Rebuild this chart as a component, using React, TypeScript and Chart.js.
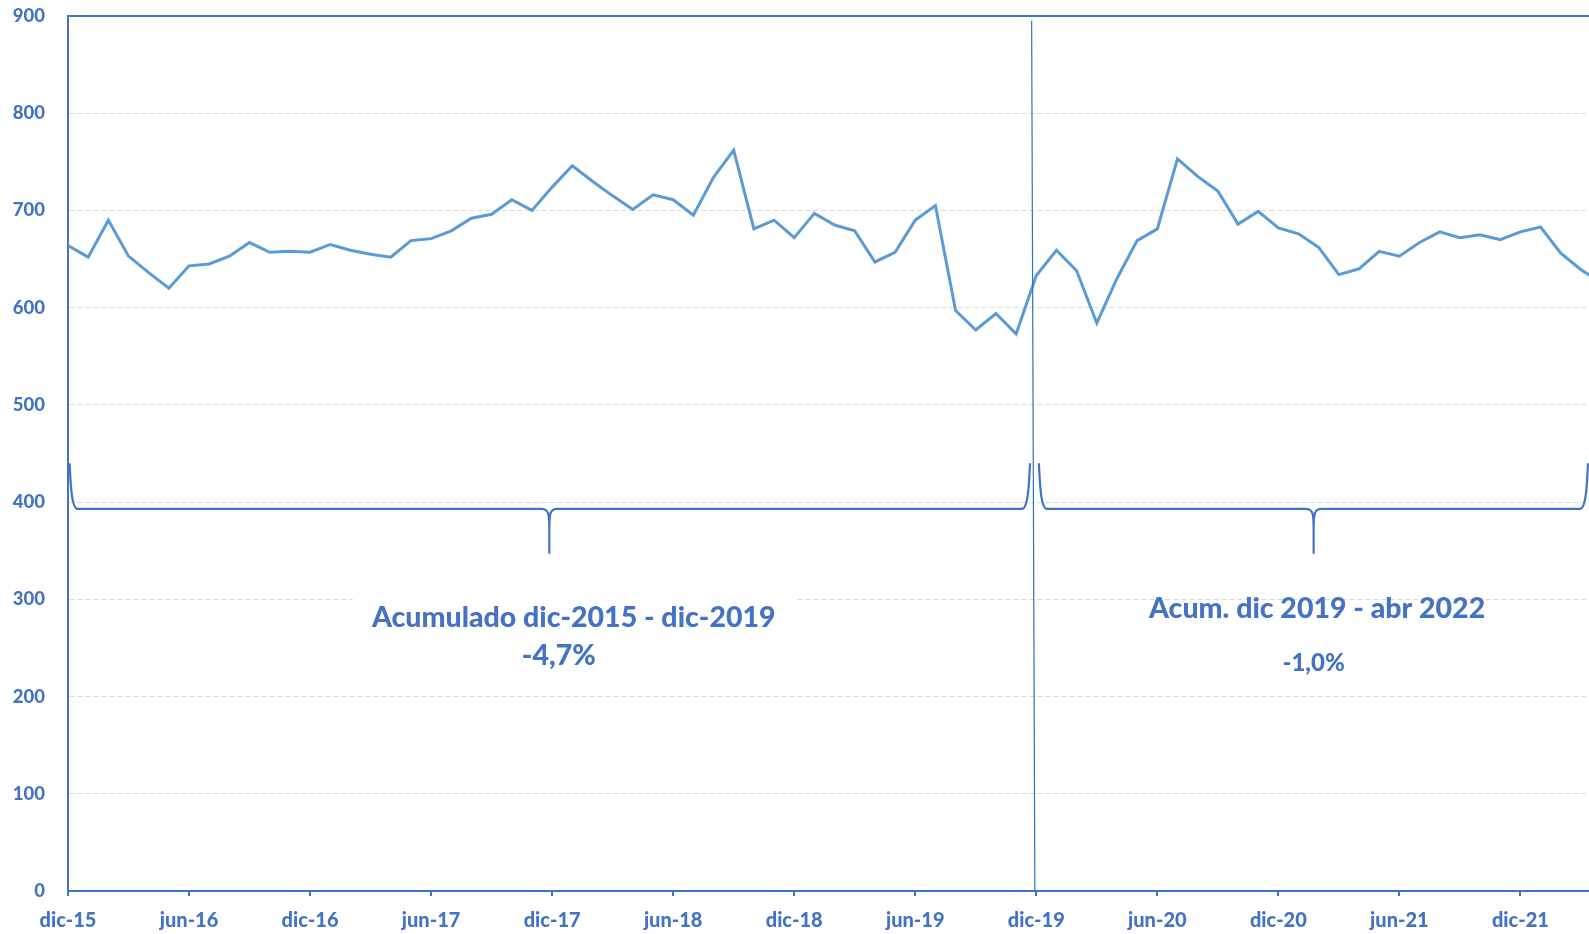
import React, { useEffect, useRef } from "react";
import { Chart, registerables } from "chart.js";

Chart.register(...registerables);

// ---- Data ----
const months: string[] = [
  "dic-15",
  "ene-16", "feb-16", "mar-16", "abr-16", "may-16", "jun-16", "jul-16", "ago-16", "sep-16", "oct-16", "nov-16", "dic-16",
  "ene-17", "feb-17", "mar-17", "abr-17", "may-17", "jun-17", "jul-17", "ago-17", "sep-17", "oct-17", "nov-17", "dic-17",
  "ene-18", "feb-18", "mar-18", "abr-18", "may-18", "jun-18", "jul-18", "ago-18", "sep-18", "oct-18", "nov-18", "dic-18",
  "ene-19", "feb-19", "mar-19", "abr-19", "may-19", "jun-19", "jul-19", "ago-19", "sep-19", "oct-19", "nov-19", "dic-19",
  "ene-20", "feb-20", "mar-20", "abr-20", "may-20", "jun-20", "jul-20", "ago-20", "sep-20", "oct-20", "nov-20", "dic-20",
  "ene-21", "feb-21", "mar-21", "abr-21", "may-21", "jun-21", "jul-21", "ago-21", "sep-21", "oct-21", "nov-21", "dic-21",
  "ene-22", "feb-22", "mar-22", "abr-22",
];

const values: number[] = [
  664,
  652, 690, 653, 636, 620, 643, 645, 653, 667, 657, 658, 657,
  665, 659, 655, 652, 669, 671, 679, 692, 696, 711, 700, 724,
  746, 730, 715, 701, 716, 711, 695, 734, 762, 681, 690, 672,
  697, 685, 679, 647, 657, 690, 705, 597, 577, 594, 573, 633,
  659, 638, 584, 630, 669, 681, 753, 735, 720, 686, 699, 682,
  676, 662, 634, 640, 658, 653, 667, 678, 672, 675, 670, 678,
  683, 656, 639, 626,
];

const xTickLabels: string[] = [
  "dic-15", "jun-16", "dic-16", "jun-17", "dic-17", "jun-18", "dic-18",
  "jun-19", "dic-19", "jun-20", "dic-20", "jun-21", "dic-21",
];

const yTicks: number[] = [0, 100, 200, 300, 400, 500, 600, 700, 800, 900];

const leftTitle = "Acumulado dic-2015 - dic-2019";
const leftValue = "-4,7%";
const rightTitle = "Acum. dic 2019 - abr 2022";
const rightValue = "-1,0%";

// ---- Styles ----
const FONT = 'Lato, "Open Sans", sans-serif';
const TEXT = "#4472C4";
const AXIS = "#4472C4";
const LINE = "#5B9BD5";
const DIVIDER = "#2E75B6";
const GRID = "#D9D9D9";
const X_MAX = 75.4;

function drawBrace(
  ctx: CanvasRenderingContext2D,
  x0: number, x1: number, xt: number,
  yH: number, yTop: number, yTip: number
) {
  ctx.beginPath();
  ctx.moveTo(x0, yTop);
  ctx.bezierCurveTo(x0 + 1, yH - 24, x0 + 2, yH, x0 + 8, yH);
  ctx.lineTo(xt - 8, yH);
  ctx.bezierCurveTo(xt - 1, yH, xt, yH + 4, xt, yH + 20);
  ctx.lineTo(xt, yTip);
  ctx.moveTo(xt, yH + 20);
  ctx.bezierCurveTo(xt, yH + 4, xt + 1, yH, xt + 8, yH);
  ctx.lineTo(x1 - 8, yH);
  ctx.bezierCurveTo(x1 - 2, yH, x1 - 1, yH - 24, x1, yTop);
  ctx.stroke();
}

const annotationPlugin = {
  id: "annotations",
  afterDatasetsDraw(chart: any) {
    const { ctx, chartArea, scales } = chart;
    const x = scales.x;
    const y = scales.y;
    ctx.save();

    // top frame line
    ctx.strokeStyle = AXIS;
    ctx.lineWidth = 2;
    ctx.beginPath();
    ctx.moveTo(chartArea.left, chartArea.top);
    ctx.lineTo(chartArea.right, chartArea.top);
    ctx.stroke();

    // divider at dic-19
    const iDiv = months.indexOf("dic-19");
    ctx.strokeStyle = DIVIDER;
    ctx.lineWidth = 1.2;
    ctx.beginPath();
    ctx.moveTo(x.getPixelForValue(iDiv - 0.23), y.getPixelForValue(895));
    ctx.lineTo(x.getPixelForValue(iDiv - 0.07), y.getPixelForValue(0));
    ctx.stroke();

    // braces
    ctx.strokeStyle = AXIS;
    ctx.lineWidth = 2.2;
    const yH = y.getPixelForValue(393);
    const yTop = y.getPixelForValue(440);
    const yTip = y.getPixelForValue(347);
    drawBrace(ctx, x.getPixelForValue(0.08), x.getPixelForValue(47.69), x.getPixelForValue(23.86), yH, yTop, yTip);
    drawBrace(ctx, x.getPixelForValue(48.13), x.getPixelForValue(75.35), x.getPixelForValue(61.75), yH, yTop, yTip);

    // white box behind left text
    const bx0 = x.getPixelForValue(14.12);
    const bx1 = x.getPixelForValue(36.0);
    const by0 = y.getPixelForValue(315);
    const by1 = y.getPixelForValue(216);
    ctx.fillStyle = "#FFFFFF";
    ctx.fillRect(bx0, by0, bx1 - bx0, by1 - by0);

    // texts
    ctx.fillStyle = TEXT;
    ctx.textAlign = "center";
    ctx.textBaseline = "alphabetic";
    ctx.font = `900 28.5px ${FONT}`;
    ctx.fillText(leftTitle, x.getPixelForValue(25.07), y.getPixelForValue(272));
    ctx.fillText(leftValue, x.getPixelForValue(24.33), y.getPixelForValue(232.6));
    ctx.fillText(rightTitle, x.getPixelForValue(61.92), y.getPixelForValue(280.5));
    ctx.font = `900 24px ${FONT}`;
    ctx.fillText(rightValue, x.getPixelForValue(61.75), y.getPixelForValue(225.8));

    ctx.restore();
  },
};

export default function App() {
  const canvasRef = useRef<HTMLCanvasElement | null>(null);

  useEffect(() => {
    const canvas = canvasRef.current;
    if (!canvas) return;
    const tickPositions = xTickLabels.map((l) => months.indexOf(l));
    const chart = new Chart(canvas, {
      type: "line",
      data: {
        datasets: [
          {
            data: values.map((v, i) => ({ x: i, y: v })),
            borderColor: LINE,
            borderWidth: 3,
            pointRadius: 0,
            pointHoverRadius: 0,
            tension: 0,
            fill: false,
          },
        ],
      },
      options: {
        responsive: false,
        animation: false,
        devicePixelRatio: 1,
        layout: { padding: { top: 16, right: 0, bottom: 0, left: 0 } },
        plugins: {
          legend: { display: false },
          tooltip: { enabled: false },
          title: { display: false },
        },
        scales: {
          x: {
            type: "linear",
            min: 0,
            max: X_MAX,
            afterBuildTicks: (s: any) => {
              s.ticks = tickPositions.map((v) => ({ value: v }));
            },
            afterFit: (s: any) => {
              s.height = 43;
              s.paddingRight = 0;
            },
            ticks: {
              autoSkip: false,
              maxRotation: 0,
              color: TEXT,
              font: { family: FONT, size: 20, weight: "900" },
              padding: 13,
              callback: (v: any) => months[Math.round(Number(v))],
            },
            grid: {
              drawOnChartArea: false,
              drawTicks: true,
              tickLength: 5,
              color: AXIS,
              lineWidth: 2,
            },
            border: { color: AXIS, width: 2 },
          },
          y: {
            min: 0,
            max: 900,
            afterBuildTicks: (s: any) => {
              s.ticks = yTicks.map((v) => ({ value: v }));
            },
            afterFit: (s: any) => {
              s.width = 68;
              s.paddingTop = 0;
              s.paddingBottom = 0;
            },
            ticks: {
              color: TEXT,
              font: { family: FONT, size: 18.5, weight: "900" },
              padding: 23,
            },
            grid: { color: GRID, lineWidth: 1, drawTicks: false },
            border: { color: AXIS, width: 2, dash: [5, 3] },
          },
        },
      },
      plugins: [annotationPlugin],
    });
    return () => chart.destroy();
  }, []);

  return (
    <div style={{ position: "absolute", left: 0, top: 0, width: 1589, height: 934, background: "#FFFFFF" }}>
      <canvas ref={canvasRef} width={1589} height={934} style={{ display: "block" }} />
    </div>
  );
}
